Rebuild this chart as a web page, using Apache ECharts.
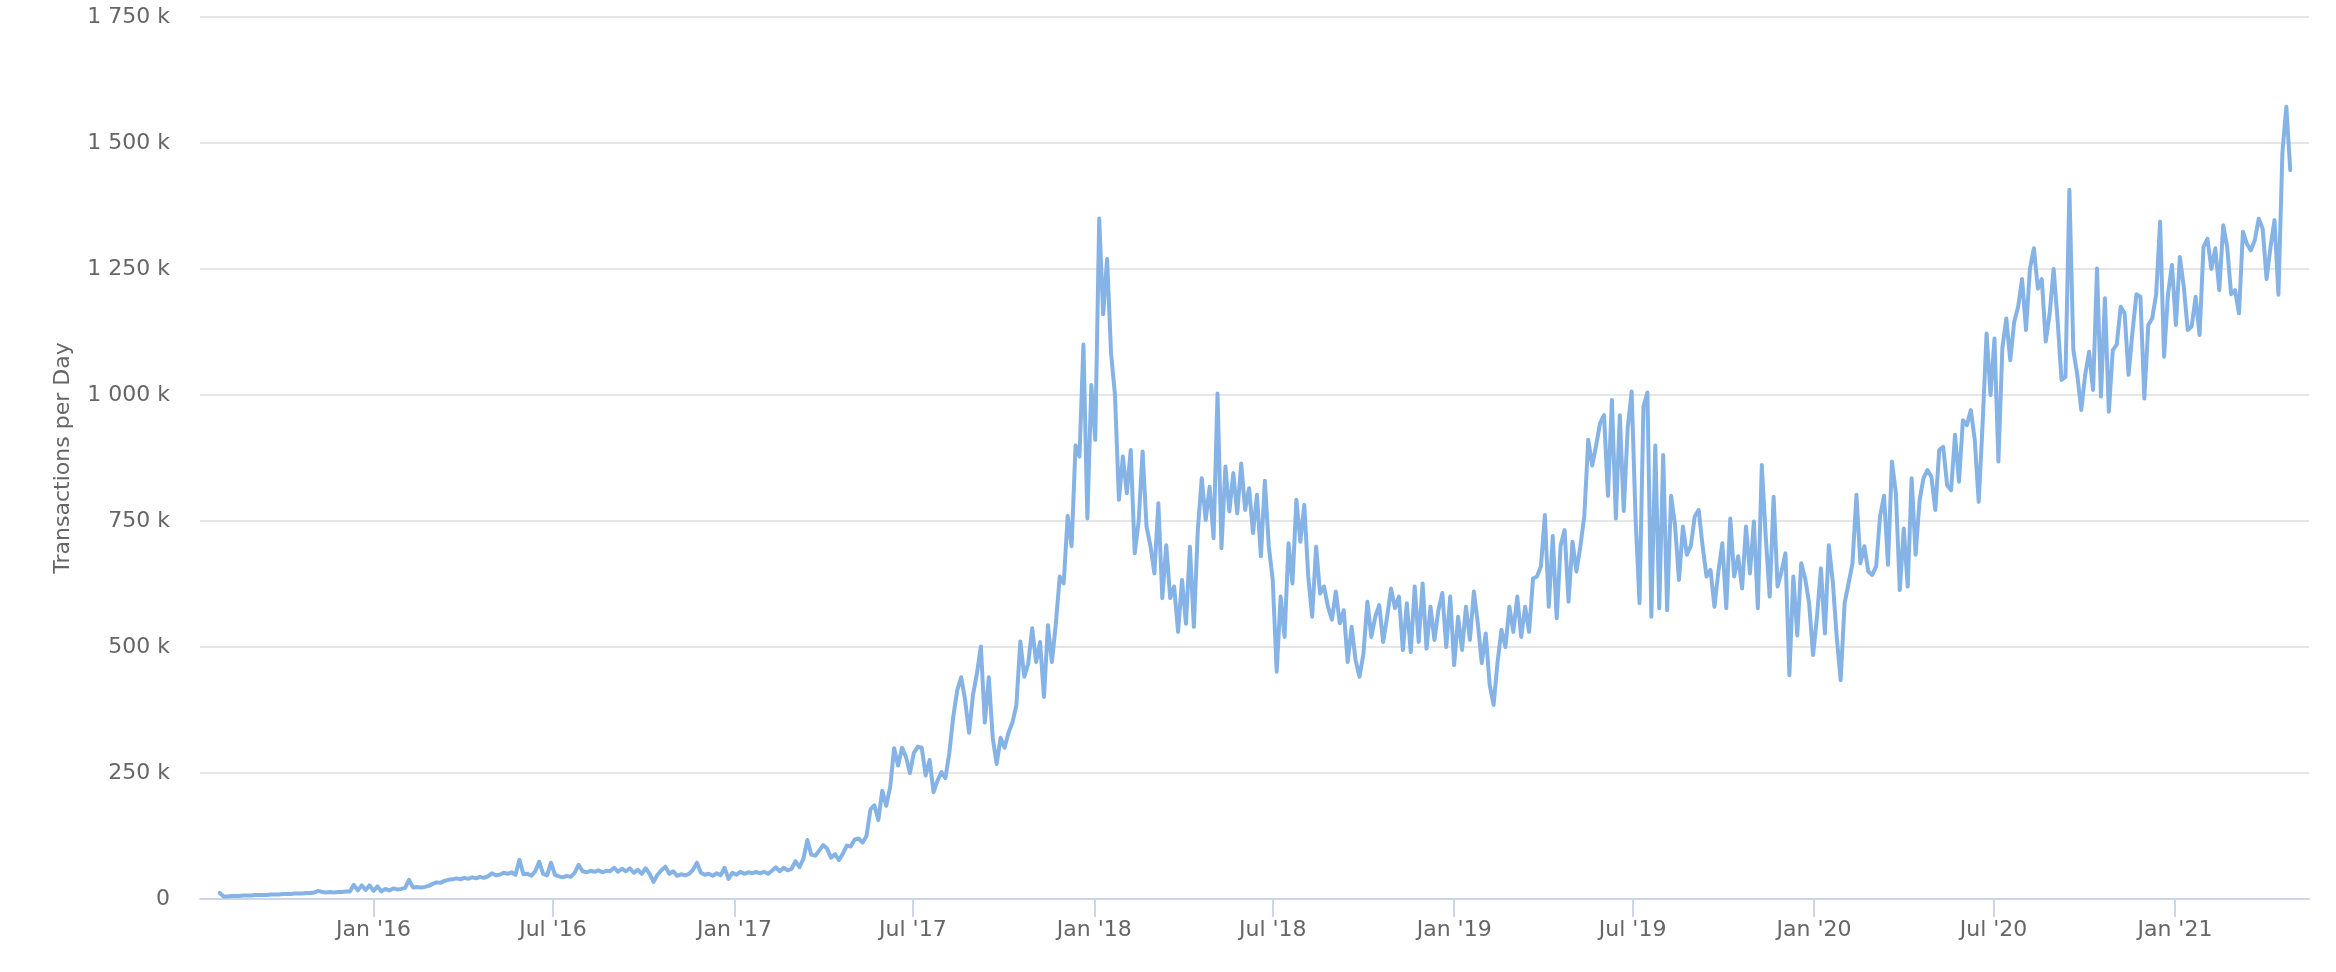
<!DOCTYPE html>
<html>
<head>
<meta charset="utf-8">
<title>Transactions per Day</title>
<script src="https://cdn.jsdelivr.net/npm/echarts@6.0.0/dist/echarts.min.js"></script>
<style>
  html, body { margin: 0; padding: 0; background: #ffffff; }
  #chart { width: 2336px; height: 972px; }
</style>
</head>
<body>
<div id="chart"></div>
<script>
// daily transactions, every 4th day (values in thousands)
var startDate = Date.UTC(2015, 6, 29);
var stepDays = 4;
var txPerDay = [
  12,5,5,6,6,6,7,7,7,8,
  8,8,8,9,9,9,10,10,10,11,
  11,11,12,12,13,16,14,13,14,13,
  14,14,15,15,28,17,27,18,27,16,
  25,15,20,17,21,19,20,22,38,23,
  24,23,24,26,30,33,32,36,38,39,
  41,39,42,40,43,41,44,42,45,51,
  47,48,52,50,53,48,78,49,50,46,
  55,74,50,47,72,48,45,43,46,44,
  52,68,55,53,56,54,57,53,56,55,
  62,54,60,55,61,52,58,50,61,50,
  34,48,57,64,50,55,46,49,47,50,
  58,72,52,48,50,46,51,47,62,40,
  52,48,54,50,53,51,54,51,54,50,
  56,63,55,62,57,60,75,63,80,117,
  88,86,96,107,100,82,89,77,90,106,
  104,118,120,112,125,178,186,157,215,185,
  222,299,265,300,282,250,290,302,300,245,
  276,212,235,252,240,290,362,414,440,395,
  330,405,448,501,350,440,320,268,320,300,
  330,350,385,511,441,467,537,470,510,401,
  543,470,546,640,626,760,700,900,878,1100,
  755,1020,911,1350,1160,1270,1083,1000,792,878,
  805,891,686,749,888,739,700,646,785,597,
  702,597,620,530,633,546,699,540,732,835,
  752,818,716,1003,696,858,769,845,765,864,
  772,815,726,802,680,830,700,633,451,600,
  520,706,626,792,709,782,640,560,699,606,
  620,580,554,610,547,573,470,540,474,441,
  487,590,520,560,583,510,560,616,577,600,
  494,587,490,620,510,626,497,580,514,573,
  607,500,600,464,560,494,580,514,610,547,
  468,527,425,385,470,534,500,580,530,600,
  520,580,530,636,640,660,762,580,720,557,
  702,732,590,709,650,700,760,911,860,900,
  944,960,800,990,755,960,770,934,1007,755,
  587,977,1005,560,900,577,881,573,800,742,
  633,739,683,700,759,772,700,640,653,580,
  650,706,577,755,640,680,616,739,646,749,
  577,861,719,600,798,620,650,686,444,640,
  523,666,636,587,484,560,656,527,702,630,
  520,434,587,626,666,802,666,700,650,643,
  660,760,800,663,868,805,613,735,620,835,
  683,790,835,851,838,772,891,897,821,811,
  921,828,950,940,970,911,788,944,1122,1000,
  1112,868,1093,1152,1069,1145,1175,1230,1129,1251,
  1291,1211,1230,1106,1162,1250,1149,1030,1036,1407,
  1089,1040,970,1040,1086,1010,1251,997,1192,967,
  1089,1100,1175,1162,1040,1126,1200,1195,993,1139,
  1152,1200,1344,1076,1200,1258,1139,1274,1215,1129,
  1136,1195,1119,1294,1310,1250,1291,1208,1337,1294,
  1200,1208,1162,1324,1300,1287,1307,1350,1330,1230,
  1294,1347,1199,1480,1572,1446
];

// x axis ticks (Jan / Jul of each year)
var tickDates = [
  Date.UTC(2016, 0, 1), Date.UTC(2016, 6, 1),
  Date.UTC(2017, 0, 1), Date.UTC(2017, 6, 1),
  Date.UTC(2018, 0, 1), Date.UTC(2018, 6, 1),
  Date.UTC(2019, 0, 1), Date.UTC(2019, 6, 1),
  Date.UTC(2020, 0, 1), Date.UTC(2020, 6, 1),
  Date.UTC(2021, 0, 1)
];
var monthNames = ['Jan', 'Feb', 'Mar', 'Apr', 'May', 'Jun', 'Jul', 'Aug', 'Sep', 'Oct', 'Nov', 'Dec'];

// y axis ticks (thousands)
var yTicks = [0, 250, 500, 750, 1000, 1250, 1500, 1750];

var DAY = 86400000;
var seriesData = txPerDay.map(function (v, i) {
  return [startDate + i * stepDays * DAY, v];
});

function groupThousands(v) {
  return String(v).replace(/\B(?=(\d{3})+(?!\d))/g, ' ');
}

var font = 'DejaVu Sans';
var chart = echarts.init(document.getElementById('chart'));
var option = {
  animation: false,
  backgroundColor: '#ffffff',
  grid: { left: 200, right: 27, top: 17, bottom: 73 },
  xAxis: {
    // timestamps on a plain value axis so the Jan/Jul ticks can be given directly
    type: 'value',
    min: Date.UTC(2015, 6, 9),
    max: Date.UTC(2021, 4, 17),
    axisLine: { lineStyle: { color: '#ccd6eb', width: 2 } },
    axisTick: {
      show: true,
      length: 18,
      customValues: tickDates,
      lineStyle: { color: '#ccd6eb', width: 2 }
    },
    axisLabel: {
      customValues: tickDates,
      color: '#666666',
      fontSize: 22,
      fontFamily: font,
      margin: 20,
      formatter: function (val) {
        var d = new Date(val);
        return monthNames[d.getUTCMonth()] + " '" + String(d.getUTCFullYear()).slice(2);
      }
    },
    splitLine: { show: false }
  },
  yAxis: {
    type: 'value',
    min: yTicks[0],
    max: yTicks[yTicks.length - 1],
    interval: 250,
    name: 'Transactions per Day',
    nameLocation: 'middle',
    nameRotate: 90,
    nameGap: 126,
    nameTextStyle: { color: '#666666', fontSize: 22, fontFamily: font },
    axisLine: { show: false },
    axisTick: { show: false },
    axisLabel: {
      color: '#666666',
      fontSize: 22,
      fontFamily: font,
      margin: 30,
      formatter: function (v) {
        return v === 0 ? '0' : groupThousands(v) + ' k';
      }
    },
    splitLine: { lineStyle: { color: '#e6e6e6', width: 2 } }
  },
  series: [{
    name: 'Transactions per Day',
    type: 'line',
    data: seriesData,
    symbol: 'none',
    showSymbol: false,
    lineStyle: { color: '#86b3e6', width: 4, join: 'round', cap: 'round' },
    itemStyle: { color: '#86b3e6' }
  }]
};
chart.setOption(option);
</script>
</body>
</html>
